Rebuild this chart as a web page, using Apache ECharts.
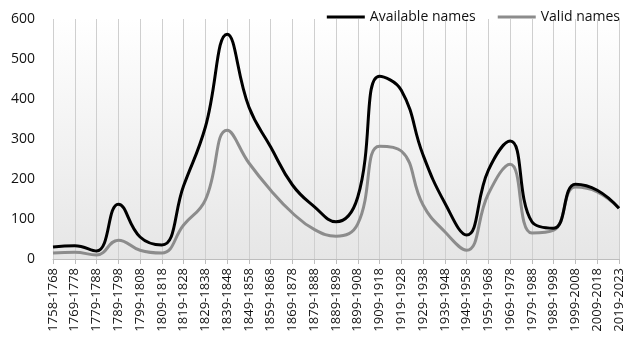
<!DOCTYPE html>
<html>
<head>
<meta charset="utf-8">
<script src="https://cdn.jsdelivr.net/npm/echarts@6/dist/echarts.min.js"></script>
<style>
  html, body { margin: 0; padding: 0; background: #fff; }
  #chart { width: 627px; height: 349px; }
</style>
</head>
<body>
<div id="chart"></div>
<script>
"use strict";

// Decade bins
const periods = [
  "1758-1768", "1769-1778", "1779-1788", "1789-1798", "1799-1808",
  "1809-1818", "1819-1828", "1829-1838", "1839-1848", "1849-1858",
  "1859-1868", "1869-1878", "1879-1888", "1889-1898", "1899-1908",
  "1909-1918", "1919-1928", "1929-1938", "1939-1948", "1949-1958",
  "1959-1968", "1969-1978", "1979-1988", "1989-1998", "1999-2008",
  "2009-2018", "2019-2023"
];

const availableNames = [
  30, 33, 20, 137, 55, 35, 183, 330, 562, 380,
  280, 185, 131, 93, 155, 457, 422, 260, 140, 60,
  222, 295, 93, 77, 187, 172, 127
];

const validNames = [
  15, 17, 10, 47, 22, 15, 85, 148, 322, 240,
  172, 115, 74, 57, 88, 282, 270, 135, 68, 22,
  163, 237, 65, 72, 180, 168, 127
];

const yTicks = { min: 0, max: 600, interval: 100 };

const chart = echarts.init(document.getElementById("chart"));
const font = "'Open Sans', 'DejaVu Sans', sans-serif";

chart.setOption({
  animation: false,
  textStyle: { fontFamily: font },
  legend: {
    right: 2,
    top: 5,
    itemWidth: 38,
    itemHeight: 3,
    itemGap: 22,
    icon: "rect",
    textStyle: { fontSize: 14, color: "#111", fontFamily: font },
    data: ["Available names", "Valid names"]
  },
  grid: {
    left: 53,
    right: 8,
    top: 19,
    bottom: 90,
    show: true,
    borderWidth: 0,
    backgroundColor: new echarts.graphic.LinearGradient(0, 0, 0, 1, [
      { offset: 0, color: "#ffffff" },
      { offset: 1, color: "#e6e6e6" }
    ])
  },
  xAxis: {
    type: "category",
    data: periods,
    boundaryGap: false,
    axisLine: { lineStyle: { color: "#bdbdbd", width: 1 } },
    axisTick: { show: true, alignWithLabel: true, length: 5, lineStyle: { color: "#bdbdbd" } },
    splitLine: { show: true, lineStyle: { color: "#cfcfcf", width: 1 } },
    axisLabel: {
      rotate: 90,
      interval: 0,
      margin: 9,
      fontSize: 13,
      color: "#111",
      fontFamily: font
    }
  },
  yAxis: {
    type: "value",
    min: yTicks.min,
    max: yTicks.max,
    interval: yTicks.interval,
    axisLine: { show: false },
    axisTick: { show: false },
    splitLine: { show: false },
    axisLabel: { fontSize: 14, color: "#111", margin: 18, fontFamily: font }
  },
  series: [
    {
      name: "Available names",
      type: "line",
      data: availableNames,
      smooth: 0.45,
      symbol: "none",
      z: 3,
      lineStyle: { color: "#000", width: 3 },
      itemStyle: { color: "#000" }
    },
    {
      name: "Valid names",
      type: "line",
      data: validNames,
      smooth: 0.45,
      symbol: "none",
      z: 2,
      lineStyle: { color: "#8c8c8c", width: 3 },
      itemStyle: { color: "#8c8c8c" }
    }
  ]
});
</script>
</body>
</html>
